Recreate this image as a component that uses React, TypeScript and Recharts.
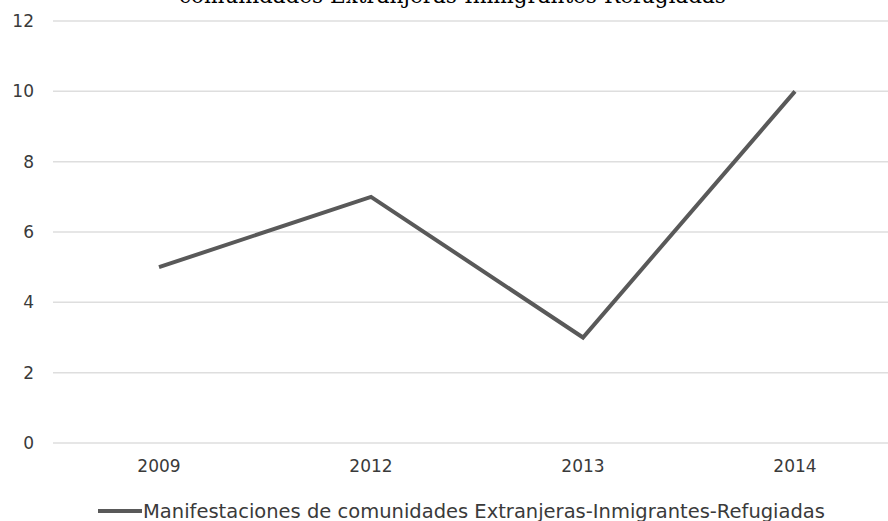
import React from 'react';
import { LineChart, Line, XAxis, YAxis, CartesianGrid, Legend } from 'recharts';

const years = ['2009', '2012', '2013', '2014'];
const manifestaciones = [5, 7, 3, 10];
const yTicks = [0, 2, 4, 6, 8, 10, 12];
const seriesName = 'Manifestaciones de comunidades Extranjeras-Inmigrantes-Refugiadas';
const titleLine = 'comunidades Extranjeras-Inmigrantes-Refugiadas';

const data = years.map((y, i) => ({ year: y, value: manifestaciones[i] }));

const LegendContent = () => (
  <div style={{ position: 'relative', height: 26 }}>
    <div style={{ position: 'absolute', left: 98, top: 0, display: 'flex', alignItems: 'center', height: 26 }}>
      <div style={{ width: 44, height: 4, background: '#595959', marginRight: 1 }} />
      <span style={{ fontFamily: 'DejaVu Sans, Verdana, sans-serif', fontSize: 19.5, color: '#3a3a3a', whiteSpace: 'nowrap' }}>{seriesName}</span>
    </div>
  </div>
);

export default function App() {
  return (
    <div style={{ position: 'absolute', left: 0, top: 0, width: 888, height: 521, overflow: 'hidden', background: '#fff' }}>
      <div style={{ position: 'absolute', left: 0, width: 905, top: -14, textAlign: 'center', fontFamily: 'DejaVu Serif, serif', fontSize: 21.5, lineHeight: '20px', color: '#000', whiteSpace: 'nowrap' }}>
        {titleLine}
      </div>
      <LineChart width={901} height={521} data={data} margin={{ top: 21, right: 0, bottom: 2, left: 0 }}>
        <CartesianGrid vertical={false} stroke="#dedede" strokeWidth={1.5} />
        <XAxis dataKey="year" axisLine={false} tickLine={false} tickMargin={11} height={50}
          padding={{ left: 106, right: 106 }}
          tick={{ fill: '#3a3a3a', fontSize: 17, fontFamily: 'DejaVu Sans, Verdana, sans-serif' }} />
        <YAxis domain={[0, 12]} ticks={yTicks} width={53} axisLine={false} tickLine={false} tickMargin={13}
          tick={{ fill: '#3a3a3a', fontSize: 17, fontFamily: 'DejaVu Sans, Verdana, sans-serif' }} />
        <Legend verticalAlign="bottom" content={<LegendContent />} wrapperStyle={{ left: 0, width: 901, bottom: -3 }} />
        <Line type="linear" dataKey="value" name={seriesName} stroke="#595959" strokeWidth={4} dot={false} isAnimationActive={false} />
      </LineChart>
    </div>
  );
}
